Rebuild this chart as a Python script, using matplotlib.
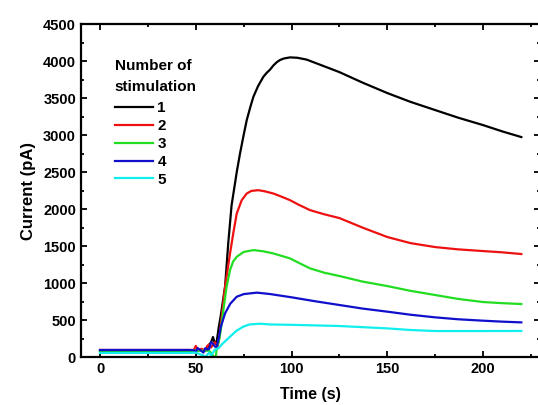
import matplotlib
matplotlib.use("Agg")
matplotlib.rcParams["font.family"] = ["Liberation Sans", "DejaVu Sans"]
matplotlib.rcParams["font.weight"] = "bold"
import matplotlib.pyplot as plt
from matplotlib.ticker import MultipleLocator

# Traces: time (s) and current (pA) per stimulation number
t1 = [0, 47, 49, 51, 53, 55, 56.5, 58, 59, 60, 61, 62, 63, 65.3, 67, 68.7, 71.4,
      73.1, 75, 76.6, 78.5, 80.1, 82.5, 85.3, 87, 88.8, 90.5, 92.3, 94, 96, 99.2,
      103, 107.9, 115, 125, 137, 150, 162, 175, 187, 200, 210, 220]
i1 = [80, 80, 85, 90, 100, 80, 150, 200, 270, 180, 220, 400, 550, 950, 1550, 2050,
      2500, 2750, 3000, 3200, 3380, 3518, 3660, 3788, 3840, 3885, 3940, 3985, 4015,
      4035, 4050, 4045, 4020, 3950, 3851, 3710, 3568, 3450, 3338, 3235, 3135, 3050,
      2973]

t2 = [0, 47, 49, 50, 51, 53, 55, 56, 57, 58, 60, 61.5, 62.5, 64, 65.3, 67.9, 69.6,
      71.4, 74, 76.6, 79, 82.7, 86, 90.5, 95, 99.2, 104, 109.7, 117, 125, 137, 150,
      162, 175, 187, 200, 210, 220]
i2 = [95, 95, 95, 150, 100, 110, 90, 150, 170, 130, 200, 150, 300, 650, 950, 1400,
      1675, 1940, 2120, 2210, 2245, 2255, 2240, 2210, 2165, 2120, 2055, 1985, 1930,
      1878, 1750, 1622, 1540, 1486, 1455, 1432, 1415, 1392]

t3 = [0, 57, 58.5, 59.5, 60.5, 61, 62, 63, 64.5, 66.1, 67.9, 69.5, 71.4, 75, 80.1,
      85, 90.5, 99.2, 104, 109.7, 117, 125, 137, 150, 162, 175, 187, 200, 210, 220]
i3 = [85, 85, 40, 0, 0, 150, 200, 350, 650, 950, 1175, 1290, 1355, 1420, 1445,
      1430, 1400, 1333, 1270, 1198, 1140, 1095, 1020, 959, 895, 838, 785, 743, 728,
      716]

t4 = [0, 47, 49, 50, 51, 52, 53, 54, 55, 56, 57, 58, 59, 60, 60.9, 62, 63, 65.3,
      68, 71.4, 75, 78.3, 82, 88.8, 100, 112, 125, 137, 150, 162, 175, 187, 200,
      210, 220]
i4 = [95, 95, 90, 70, 120, 100, 80, 60, 120, 100, 110, 200, 180, 140, 139, 250,
      400, 590, 720, 815, 850, 860, 870, 851, 807, 755, 703, 655, 613, 572, 536,
      510, 491, 478, 468]

t5 = [0, 47, 50, 52, 54, 55, 56, 57, 58, 59, 60, 61.8, 64, 67.9, 71, 74.8, 78,
      83.6, 88.8, 100, 125, 150, 162, 175, 200, 220]
i5 = [55, 55, 60, 40, 20, 0, 30, 60, 20, 60, 100, 117, 180, 275, 350, 410, 440,
      450, 440, 435, 419, 387, 365, 351, 351, 352]

series = [
    (t1, i1, "#000000", "1"),
    (t2, i2, "#ee1111", "2"),
    (t3, i3, "#22dd22", "3"),
    (t4, i4, "#1010cc", "4"),
    (t5, i5, "#11eeee", "5"),
]

fig = plt.figure(figsize=(5.38, 4.05), dpi=100)
ax = fig.add_axes([0.1503, 0.1185, 0.8543, 0.822])

for t, cur, color, label in series:
    ax.plot(t, cur, color=color, lw=1.6, label=label)

ax.set_xlim(-10, 230)
ax.set_ylim(0, 4500)
ax.xaxis.set_major_locator(MultipleLocator(50))
ax.xaxis.set_minor_locator(MultipleLocator(25))
ax.yaxis.set_major_locator(MultipleLocator(500))
ax.yaxis.set_minor_locator(MultipleLocator(250))
ax.tick_params(which="both", direction="in", top=True, right=True,
               labelsize=10.5, width=1.3)
ax.tick_params(which="major", length=4.5)
ax.tick_params(which="minor", length=2.5)
for lab in ax.get_xticklabels() + ax.get_yticklabels():
    lab.set_fontweight("bold")
for sp in ax.spines.values():
    sp.set_linewidth(1.6)

ax.set_xlabel("Time (s)", fontsize=11.5, fontweight="bold", labelpad=8)
ax.set_ylabel("Current (pA)", fontsize=12, fontweight="bold", labelpad=5)

# legend title drawn separately to control its spacing
ax.text(0.074, 0.799, "Number of\nstimulation", transform=ax.transAxes,
        ha="left", va="baseline", fontsize=11, fontweight="bold",
        linespacing=1.65)
leg = ax.legend(loc="upper left", bbox_to_anchor=(0.06, 0.786), frameon=False,
                fontsize=11, handlelength=2.5, handletextpad=0.3,
                labelspacing=0.25, borderaxespad=0)
for txt in leg.get_texts():
    txt.set_fontweight("bold")

fig.savefig("out.png", dpi=100)
